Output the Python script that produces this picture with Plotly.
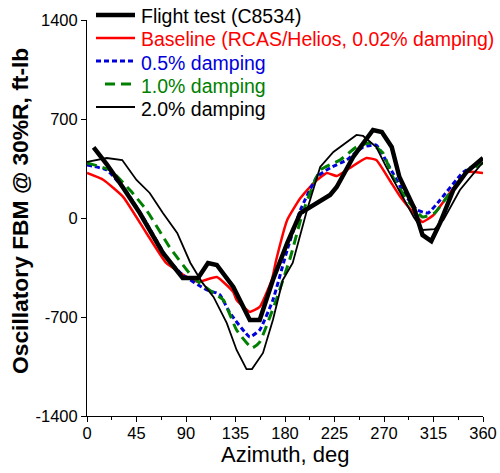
import plotly.graph_objects as go

# Azimuth (deg) and oscillatory flap bending moment (ft-lb) for each case
flight_az = [6, 18, 33, 48, 69, 87, 101, 110, 118, 133, 148, 157, 169, 182, 194, 206, 221, 227, 242, 260, 268, 277, 284, 297, 305, 313, 321, 333, 345, 360]
flight_fbm = [500, 380, 212, 35, -247, -424, -424, -318, -332, -488, -721, -721, -438, -177, 35, 92, 163, 219, 431, 622, 608, 502, 290, 78, -120, -163, -35, 198, 325, 424]

base_az = [0, 15, 33, 54, 72, 91, 101, 118, 133, 136, 148, 157, 168, 172, 182, 194, 206, 218, 227, 239, 254, 263, 275, 285, 297, 305, 315, 327, 345, 360]
base_fbm = [318, 269, 148, -106, -318, -417, -452, -417, -523, -580, -664, -629, -438, -297, -14, 141, 247, 318, 297, 354, 424, 410, 269, 148, 35, -28, 21, 148, 325, 318]

d05_az = [0, 18, 36, 54, 72, 87, 109, 118, 121, 130, 148, 157, 169, 182, 194, 209, 221, 236, 251, 263, 275, 288, 300, 310, 321, 342, 357]
d05_fbm = [375, 339, 184, -35, -276, -403, -509, -530, -544, -672, -841, -792, -580, -226, 57, 290, 354, 410, 502, 516, 361, 177, 57, 35, 127, 325, 389]

d10_az = [0, 21, 39, 54, 75, 96, 115, 124, 136, 150, 157, 172, 185, 196, 212, 230, 245, 257, 269, 278, 291, 305, 316, 330, 345, 360]
d10_fbm = [389, 339, 198, 57, -205, -417, -530, -580, -792, -919, -877, -580, -276, 35, 339, 410, 502, 530, 460, 290, 127, 7, 35, 177, 325, 389]

d20_az = [0, 18, 32, 45, 57, 69, 82, 94, 105, 115, 127, 136, 145, 150, 160, 169, 178, 187, 200, 212, 224, 236, 245, 251, 263, 272, 285, 297, 305, 316, 324, 339, 360]
d20_fbm = [396, 424, 410, 269, 177, 35, -106, -318, -459, -558, -742, -933, -1068, -1068, -954, -721, -438, -318, 57, 361, 467, 537, 587, 580, 502, 361, 177, 7, -85, -78, -14, 198, 396]

series_names = ["Flight test (C8534)", "Baseline (RCAS/Helios, 0.02% damping)",
                "0.5% damping", "1.0% damping", "2.0% damping"]

x_ticks = [0, 45, 90, 135, 180, 225, 270, 315, 360]
x_minor = [22.5, 67.5, 112.5, 157.5, 202.5, 247.5, 292.5, 337.5]
y_ticks = [-1400, -700, 0, 700, 1400]
y_ticklabels = ["-1400", "-700", "0", "700", "1400"]

FONT = "Liberation Sans, Arial, sans-serif"
W, H = 500, 473
ML, MR, MT, MB = 87, 17, 20, 57
PW, PH = W - ML - MR, H - MT - MB

def px_x(px):
    """Pixel column -> paper x."""
    return (px - ML) / PW

def px_y(py):
    """Pixel row -> paper y."""
    return (H - MB - py) / PH

# line style per series: color, width, dash
styles = [
    dict(color="#000000", width=4.5, dash="solid"),
    dict(color="#ff0000", width=2.5, dash="solid"),
    dict(color="#0000dd", width=3, dash="5px,3px"),
    dict(color="#008000", width=3, dash="10px,6px"),
    dict(color="#000000", width=1.8, dash="solid"),
]
smooth = [False, True, True, True, False]
data = [(flight_az, flight_fbm), (base_az, base_fbm), (d05_az, d05_fbm),
        (d10_az, d10_fbm), (d20_az, d20_fbm)]

fig = go.Figure()

# thin lines first, flight test on top
for i in [1, 2, 3, 4, 0]:
    xs, ys = data[i]
    line = dict(styles[i])
    if smooth[i]:
        line.update(shape="spline", smoothing=0.4)
    fig.add_trace(go.Scatter(x=xs, y=ys, mode="lines", name=series_names[i],
                             line=line, showlegend=False))

# key in the upper-left corner: sample line + coloured label
row_y = [15, 38, 61, 84, 107]
line_x0 = [96, 96, 96, 105, 96]
for i, name in enumerate(series_names):
    s = styles[i]
    fig.add_shape(type="line", xref="paper", yref="paper",
                  x0=px_x(line_x0[i]), x1=px_x(135), y0=px_y(row_y[i]), y1=px_y(row_y[i]),
                  line=dict(color=s["color"], width=s["width"], dash=s["dash"]))
    fig.add_annotation(text=name, xref="paper", yref="paper",
                       x=px_x(139), y=px_y(row_y[i] + 1.5), xanchor="left", yanchor="middle",
                       showarrow=False, font=dict(family=FONT, size=19.5, color=s["color"]))

# axis titles
fig.add_annotation(text="Azimuth, deg", xref="paper", yref="paper",
                   x=0.5, y=px_y(455), xanchor="center", yanchor="middle",
                   showarrow=False, font=dict(family=FONT, size=22, color="black"))
fig.add_annotation(text="<b>Oscillatory FBM @ 30%R, ft-lb</b>", xref="paper", yref="paper",
                   x=px_x(19.5), y=px_y(211.5), xanchor="center", yanchor="middle", textangle=-90,
                   showarrow=False, font=dict(family=FONT, size=22.8, color="black"))

fig.update_layout(
    width=W, height=H,
    margin=dict(l=ML, r=MR, t=MT, b=MB, autoexpand=False),
    plot_bgcolor="white", paper_bgcolor="white",
    font=dict(family=FONT, size=16.5, color="black"),
    showlegend=False,
    xaxis=dict(range=[0, 360], tickmode="array", tickvals=x_ticks,
               ticks="outside", ticklen=5, tickwidth=1, tickcolor="black",
               ticklabelstandoff=-3,
               minor=dict(tickvals=x_minor, ticks="outside", ticklen=3, tickcolor="black"),
               showline=True, linecolor="black", linewidth=1, mirror=False,
               showgrid=False, zeroline=False, automargin=False),
    yaxis=dict(range=[-1400, 1400], tickmode="array", tickvals=y_ticks, ticktext=y_ticklabels,
               ticks="outside", ticklen=5, tickwidth=1, tickcolor="black",
               showline=True, linecolor="black", linewidth=1, mirror=False,
               showgrid=False, zeroline=False, automargin=False),
)

fig.write_html("out.html")
